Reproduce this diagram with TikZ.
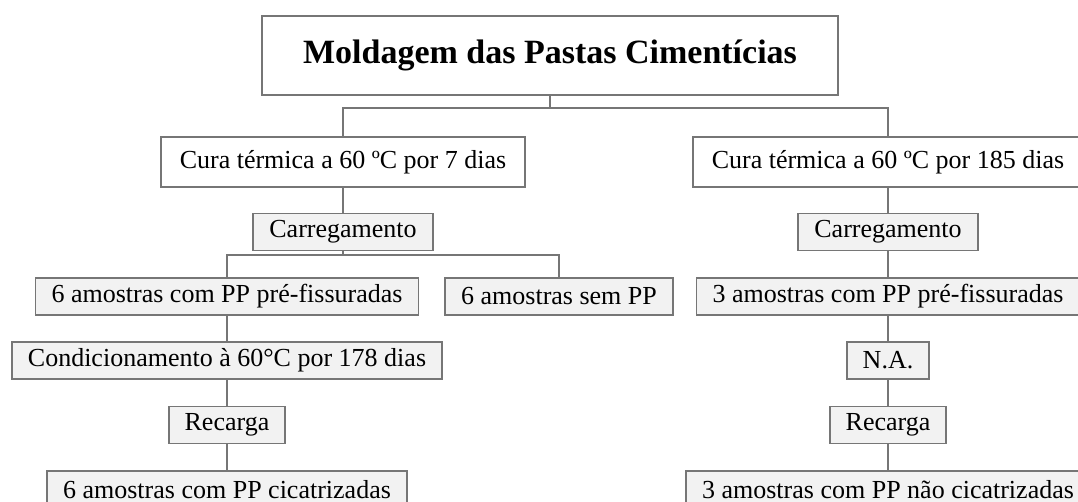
\documentclass[tikz,border=0pt]{standalone}
\usepackage{fontspec}
\setmainfont{Liberation Serif}
\usepackage{tikz}
\definecolor{fcline}{RGB}{118,118,118}
\definecolor{fcshade}{RGB}{242,242,242}
\tikzset{
  fcbox/.style={rectangle, draw=fcline, line width=1.8pt, fill=white,
                inner xsep=16pt, inner ysep=0pt, minimum height=37pt,
                font=\fontsize{26}{30}\selectfont},
  fcroot/.style={fcbox, minimum width=576pt, minimum height=79pt,
                 font=\fontsize{34}{40}\selectfont\bfseries},
  fccure/.style={fcbox, inner xsep=19pt, minimum height=50pt},
  fcstep/.style={fcbox, fill=fcshade},
  fclink/.style={draw=fcline, line width=1.8pt}
}

\begin{document}
\begin{tikzpicture}[x=1pt, y=-1pt]
  \useasboundingbox (0,0) rectangle (1078,502);
  \clip (0,0) rectangle (1078,502);
  % Moulding, then the two curing regimes.
  \node[fcroot] (mold) at (550,55.5) {Moldagem das Pastas Cimentícias};
  \node[fccure] (cureA) at (343,162) {Cura térmica a 60 ºC por 7 dias};
  \node[fccure] (cureB) at (888,162) {Cura térmica a 60 ºC por 185 dias};
  % Left branch.
  \node[fcstep] (loadA) at (343,232) {Carregamento};
  \node[fcstep] (crackA) at (227,296.5) {6 amostras com PP pré-fissuradas};
  \node[fcstep] (plainA) at (559,296.5) {6 amostras sem PP};
  \node[fcstep] (condA) at (227,360.5) {Condicionamento à 60°C por 178 dias};
  \node[fcstep] (reloadA) at (227,425) {Recarga};
  \node[fcstep] (healA) at (227,489.5) {6 amostras com PP cicatrizadas};
  % Right branch.
  \node[fcstep] (loadB) at (888,232) {Carregamento};
  \node[fcstep] (crackB) at (888,296.5) {3 amostras com PP pré-fissuradas};
  \node[fcstep] (naB) at (888,360.5) {N.A.};
  \node[fcstep] (reloadB) at (888,425) {Recarga};
  \node[fcstep] (healB) at (888,489.5) {3 amostras com PP não cicatrizadas};

  \draw[fclink] (mold.south) -- ++(0,12) -| (cureA.north);
  \draw[fclink] (mold.south) -- ++(0,12) -| (cureB.north);
  \draw[fclink] (cureA) -- (loadA);
  \draw[fclink] (loadA.south) -- ++(0,4) -| (crackA.north);
  \draw[fclink] (loadA.south) -- ++(0,4) -| (plainA.north);
  \draw[fclink] (crackA) -- (condA);
  \draw[fclink] (condA) -- (reloadA);
  \draw[fclink] (reloadA) -- (healA);
  \draw[fclink] (cureB) -- (loadB);
  \draw[fclink] (loadB) -- (crackB);
  \draw[fclink] (crackB) -- (naB);
  \draw[fclink] (naB) -- (reloadB);
  \draw[fclink] (reloadB) -- (healB);
\end{tikzpicture}
\end{document}
